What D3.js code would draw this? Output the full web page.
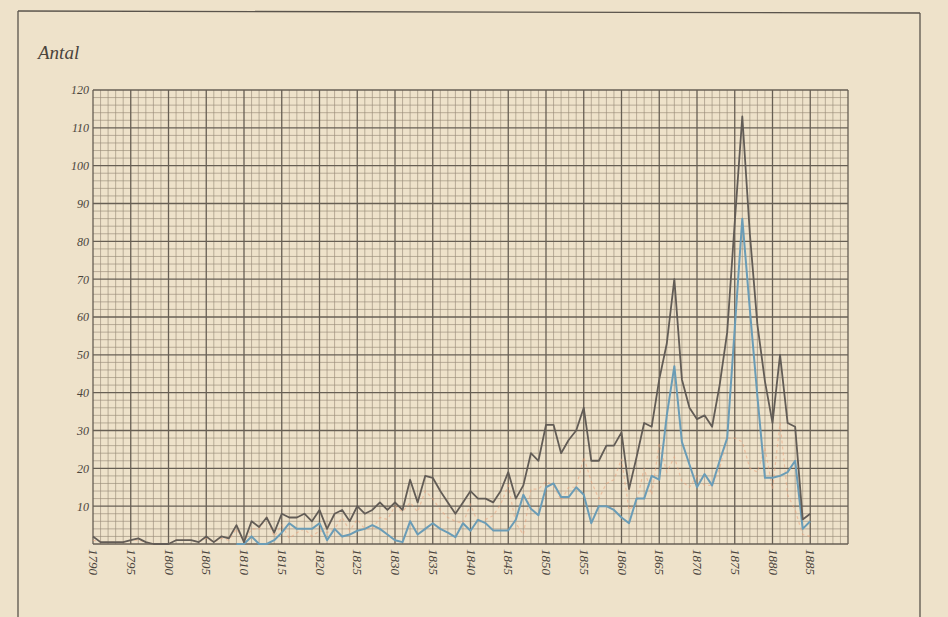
<!DOCTYPE html>
<html><head><meta charset="utf-8">
<script src="https://cdn.jsdelivr.net/npm/d3@7"></script>
<style>html,body{margin:0;padding:0;background:#eee2ca;} svg{display:block}</style>
</head><body><svg id="c" width="948" height="617"></svg>
<script>
const years = [1790,1791,1792,1793,1794,1795,1796,1797,1798,1799,
1800,1801,1802,1803,1804,1805,1806,1807,1808,1809,
1810,1811,1812,1813,1814,1815,1816,1817,1818,1819,
1820,1821,1822,1823,1824,1825,1826,1827,1828,1829,
1830,1831,1832,1833,1834,1835,1836,1837,1838,1839,
1840,1841,1842,1843,1844,1845,1846,1847,1848,1849,
1850,1851,1852,1853,1854,1855,1856,1857,1858,1859,
1860,1861,1862,1863,1864,1865,1866,1867,1868,1869,
1870,1871,1872,1873,1874,1875,1876,1877,1878,1879,
1880,1881,1882,1883,1884,1885];

// dark grey line (total)
const totalCounts = [2,0.5,0.5,0.5,0.5,1,1.5,0.5,0,0,
0,1,1,1,0.5,2,0.5,2,1.5,5,
0.5,6,4.5,7,3,8,7,7,8,6,
9,4,8,9,6,10,8,9,11,9,
11,9,17,11,18,17.5,14,11,8,11,
14,12,12,11,14,19,12,15.5,24,22,
31.5,31.5,24,27.5,30,36,22,22,26,26,
29.5,14.5,23,32,31,43.5,53,70,43.5,36,
33,34,31,42,56,85,113,82,58,43,
32,50,32,31,6.5,8];

// blue line
const blueCounts = [null,null,null,null,null,null,null,null,null,null,
null,null,null,null,null,null,null,null,null,0,
0,2,0,0,1,3,5.5,4,4,4,
5.5,1,4,2,2.5,3.5,4,5,4,2.5,
1,0.5,6,2.5,4,5.5,4,3,1.8,5.5,
3.5,6.4,5.5,3.6,3.6,3.6,6.4,13,9.3,7.6,
15,16,12.4,12.4,15,13,5.5,10,10,9,
7,5.5,12,12,18,17,34,47,27,21,
15,18.5,15.5,22,28,57,86,62,39,17.5,
17.5,18,19,22,4,6];

// faint orange dashed line
const orangeCounts = [1,0.5,0.5,0.5,0.5,1,1,0.5,0,0,
0,1,1,1,0.5,1.5,0.5,1.5,1,4,
0.5,4,4,7,2,5,1.5,3,4,2,
3.5,3,4,7,3.5,6.5,4,4,7,6.5,
10,8.5,11,8.5,14,12,9,7,6,5.5,
10.5,5.5,6.5,7.5,10.5,15.5,5.5,2.5,14.5,14.5,
16.5,15.5,11.5,15,15,23,16.5,12,16,17,
22.5,9,11,20,13,26.5,19,23,16.5,15,
18,15.5,15.5,20,28,28,27,20,19,25.5,
14.5,32,13,9,2.5,2];

const yTickLabels = [10,20,30,40,50,60,70,80,90,100,110,120];
const xTickLabels = [1790,1795,1800,1805,1810,1815,1820,1825,1830,1835,1840,1845,1850,1855,1860,1865,1870,1875,1880,1885];

const W = 948, H = 617;
const svg = d3.select('#c');
svg.append('rect').attr('width', W).attr('height', H).attr('fill', '#eee2ca');

// page frame
const frame = svg.append('g').attr('stroke', '#5a544c').attr('stroke-width', 1.3).attr('fill', 'none');
frame.append('line').attr('x1', 18).attr('y1', 11).attr('x2', 920).attr('y2', 13);
frame.append('line').attr('x1', 18).attr('y1', 11).attr('x2', 18).attr('y2', 617);
frame.append('line').attr('x1', 920).attr('y1', 13).attr('x2', 920).attr('y2', 617);

const x = d3.scaleLinear().domain([1790, 1890]).range([93, 848]);
const y = d3.scaleLinear().domain([0, 120]).range([544, 90]);

// grid
const grid = svg.append('g');
const vLines = d3.range(1790, 1891);
const hLines = d3.range(0, 121, 2);
grid.selectAll('line.vmin').data(vLines.filter(d => d % 5 !== 0)).join('line')
  .attr('x1', d => x(d)).attr('x2', d => x(d)).attr('y1', y(0)).attr('y2', y(120))
  .attr('stroke', '#978b77').attr('stroke-opacity', 0.7).attr('stroke-width', 0.9);
grid.selectAll('line.hmin').data(hLines.filter(d => d % 10 !== 0)).join('line')
  .attr('x1', x(1790)).attr('x2', x(1890)).attr('y1', d => y(d)).attr('y2', d => y(d))
  .attr('stroke', '#978b77').attr('stroke-opacity', 0.7).attr('stroke-width', 0.9);
grid.selectAll('line.vmaj').data(vLines.filter(d => d % 5 === 0)).join('line')
  .attr('x1', d => x(d)).attr('x2', d => x(d)).attr('y1', y(0)).attr('y2', y(120))
  .attr('stroke', '#675f54').attr('stroke-width', 1.3);
grid.selectAll('line.hmaj').data(hLines.filter(d => d % 10 === 0)).join('line')
  .attr('x1', x(1790)).attr('x2', x(1890)).attr('y1', d => y(d)).attr('y2', d => y(d))
  .attr('stroke', '#675f54').attr('stroke-width', 1.3);

// axes labels
const yAxis = d3.axisLeft(y).tickValues(yTickLabels).tickSize(0).tickPadding(4).tickFormat(d3.format('d'));
const ya = svg.append('g').attr('transform', `translate(${x(1790)},0)`).call(yAxis);
ya.select('.domain').remove();
ya.selectAll('text').attr('font-family', 'Liberation Serif, serif').attr('font-style', 'italic')
  .attr('font-size', 12).attr('fill', '#4a443c');

const xa = svg.append('g');
xa.selectAll('text').data(xTickLabels).join('text')
  .attr('transform', d => `translate(${x(d) - 4},${y(0) + 5}) rotate(90)`)
  .attr('text-anchor', 'start')
  .attr('font-family', 'Liberation Serif, serif').attr('font-style', 'italic')
  .attr('font-size', 13).attr('fill', '#4a443c')
  .text(d => d);

svg.append('text').attr('x', 38).attr('y', 59)
  .attr('font-family', 'Liberation Serif, serif').attr('font-style', 'italic')
  .attr('font-size', 19).attr('fill', '#4a443c').text('Antal');

// series
const mk = arr => d3.line().defined((d, i) => arr[i] !== null)
  .x((d, i) => x(years[i])).y((d, i) => y(arr[i]));

svg.append('path').datum(orangeCounts).attr('d', mk(orangeCounts))
  .attr('fill', 'none').attr('stroke', '#e9a27c').attr('stroke-opacity', 0.55)
  .attr('stroke-width', 1.2).attr('stroke-dasharray', '3,3');
svg.append('path').datum(blueCounts).attr('d', mk(blueCounts))
  .attr('fill', 'none').attr('stroke', '#6a9cb6').attr('stroke-width', 2).attr('stroke-linejoin', 'round');
svg.append('path').datum(totalCounts).attr('d', mk(totalCounts))
  .attr('fill', 'none').attr('stroke', '#625c56').attr('stroke-width', 1.8).attr('stroke-linejoin', 'round');
</script></body></html>
